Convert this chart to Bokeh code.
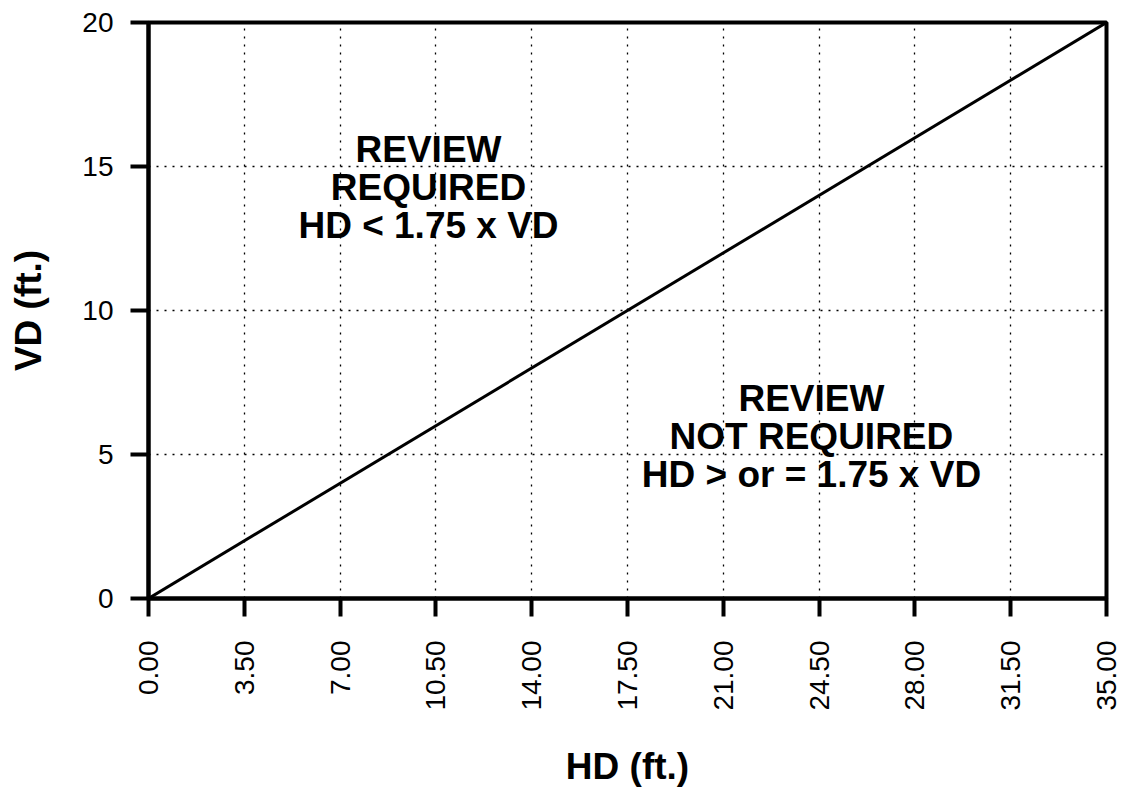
import math
from bokeh.plotting import figure
from bokeh.models import Range1d, FixedTicker, PrintfTickFormatter, ColumnDataSource
from bokeh.core.properties import value
from bokeh.embed import file_html
from bokeh.resources import INLINE

# data
hd_line = [0.0, 35.0]
vd_line = [0.0, 20.0]
x_ticks = [0.0, 3.5, 7.0, 10.5, 14.0, 17.5, 21.0, 24.5, 28.0, 31.5, 35.0]
y_ticks = [0, 5, 10, 15, 20]
zone_text = ["REVIEW\nREQUIRED\nHD < 1.75 x VD", "REVIEW\nNOT REQUIRED\nHD > or = 1.75 x VD"]
zone_x = [10.23, 24.22]
zone_y = [14.27, 5.62]

FONT = "Liberation Sans"

p = figure(frame_width=958, frame_height=576,
           x_range=Range1d(0, 35), y_range=Range1d(0, 20),
           output_backend="svg", toolbar_location=None,
           min_border_left=148, min_border_top=22, min_border_right=16, min_border_bottom=100)
p.background_fill_color = "white"
p.border_fill_color = "white"
p.outline_line_color = "black"
p.outline_line_width = 4

for ax in (p.xaxis[0], p.yaxis[0]):
    ax.axis_line_width = 4
    ax.axis_line_color = "black"
    ax.major_tick_line_width = 4
    ax.major_tick_line_color = "black"
    ax.major_tick_out = 18
    ax.major_tick_in = 0
    ax.minor_tick_out = 0
    ax.minor_tick_in = 0
    ax.major_label_text_font = FONT
    ax.major_label_text_font_size = "28px"
    ax.major_label_text_color = "black"
    ax.axis_label_text_font = FONT
    ax.axis_label_text_font_size = "37px"
    ax.axis_label_text_font_style = "bold"
    ax.axis_label_text_color = "black"

p.xaxis.ticker = FixedTicker(ticks=x_ticks)
p.xaxis.formatter = PrintfTickFormatter(format="%.2f")
p.xaxis.major_label_orientation = math.pi / 2
p.xaxis.major_label_standoff = 24
p.xaxis.axis_label = "HD (ft.)"
p.xaxis.axis_label_standoff = 32

p.yaxis.ticker = FixedTicker(ticks=y_ticks)
p.yaxis.major_label_standoff = 17
p.yaxis.axis_label = "VD (ft.)"
p.yaxis.axis_label_standoff = 30

for g in (p.xgrid[0], p.ygrid[0]):
    g.grid_line_color = "black"
    g.grid_line_width = 1.3
    g.grid_line_dash = "2 6"
p.xgrid.ticker = FixedTicker(ticks=x_ticks)
p.ygrid.ticker = FixedTicker(ticks=y_ticks)

p.line(hd_line, vd_line, line_color="black", line_width=3)

src = ColumnDataSource(dict(x=zone_x, y=zone_y, text=zone_text))
p.text(x="x", y="y", text="text", source=src, text_align="center", text_baseline="middle",
       text_font=value(FONT), text_font_style="bold", text_font_size="37px",
       text_line_height=0.92, text_color="black")

open("out.html", "w").write(file_html(p, INLINE))
